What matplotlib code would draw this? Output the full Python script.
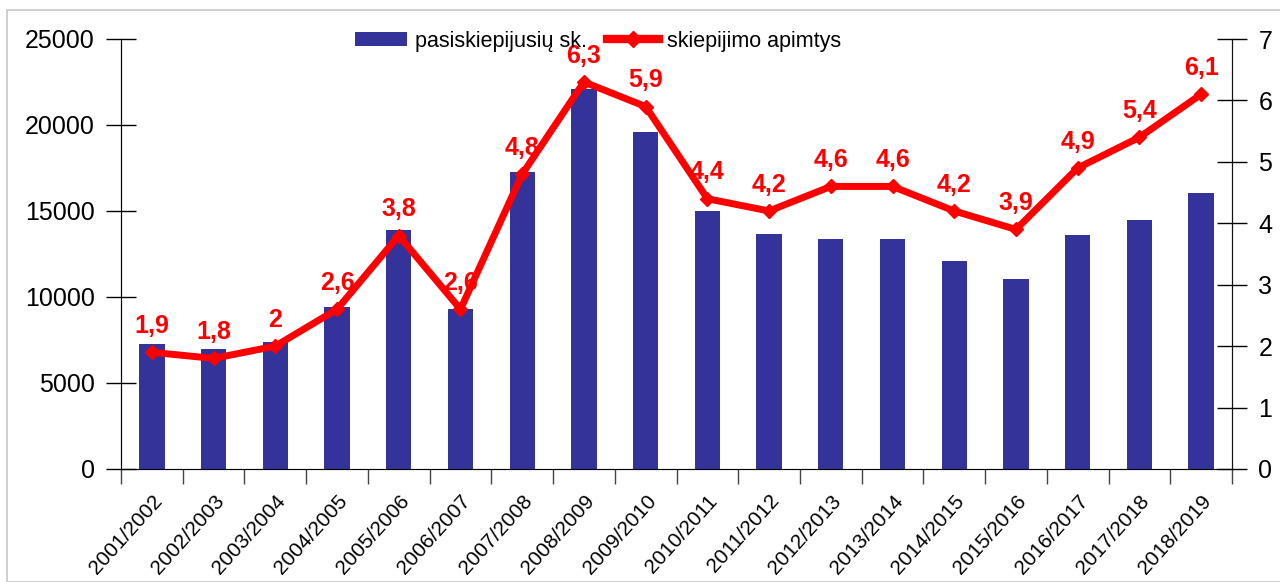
import matplotlib
matplotlib.use("Agg")
import matplotlib.pyplot as plt
from matplotlib.lines import Line2D
from matplotlib.patches import Patch, Rectangle

plt.rcParams['font.family'] = ['Liberation Sans', 'DejaVu Sans']

seasons = ["2001/2002", "2002/2003", "2003/2004", "2004/2005", "2005/2006",
           "2006/2007", "2007/2008", "2008/2009", "2009/2010", "2010/2011",
           "2011/2012", "2012/2013", "2013/2014", "2014/2015", "2015/2016",
           "2016/2017", "2017/2018", "2018/2019"]
vaccinated = [7250, 6960, 7370, 9400, 13920, 9280, 17290, 22100, 19600, 15020,
              13690, 13400, 13400, 12070, 11020, 13630, 14500, 16070]
coverage = [1.9, 1.8, 2, 2.6, 3.8, 2.6, 4.8, 6.3, 5.9, 4.4,
            4.2, 4.6, 4.6, 4.2, 3.9, 4.9, 5.4, 6.1]
coverage_labels = ["1,9", "1,8", "2", "2,6", "3,8", "2,6", "4,8", "6,3", "5,9", "4,4",
                   "4,2", "4,6", "4,6", "4,2", "3,9", "4,9", "5,4", "6,1"]

bar_color = "#333399"
line_color = "#ff0000"

W, H = 1280, 582
fig = plt.figure(figsize=(W / 100, H / 100), dpi=100)
fig.patches.append(Rectangle((7 / W, 0), 1.0, 1 - 10 / H, transform=fig.transFigure,
                             fill=False, edgecolor="#c8c8c8", linewidth=1.2))

ax = fig.add_axes([121 / W, 1 - 469 / H, (1232 - 121) / W, (469 - 39) / H])
ax2 = ax.twinx()

x = list(range(len(seasons)))
ax.bar(x, vaccinated, width=0.41, color=bar_color, zorder=2)
ax.set_xlim(-0.5, len(seasons) - 0.5)
ax.set_ylim(0, 25000)
ax.set_yticks(range(0, 25001, 5000))
ax.tick_params(axis='y', direction='inout', length=22, width=1, labelsize=18, pad=8, colors='black')

ax.set_xticks([i - 0.5 for i in range(len(seasons) + 1)])
ax.set_xticklabels([])
ax.tick_params(axis='x', which='major', direction='out', length=11, width=1, color='#444444')
ax.set_xticks(x, minor=True)
ax.set_xticklabels(seasons, minor=True, rotation=48, ha='right', va='top',
                   rotation_mode='anchor', fontsize=15)
ax.tick_params(axis='x', which='minor', length=0, pad=16)

for s in ['top']:
    ax.spines[s].set_visible(False)
    ax2.spines[s].set_visible(False)
ax.spines['bottom'].set_color('#777777')
ax.spines['left'].set_color('#333333')
ax2.spines['right'].set_color('#111111')

ax2.plot(x, coverage, color=line_color, linewidth=5, marker='D', markersize=7,
         zorder=3, solid_joinstyle='miter')
ax2.set_ylim(0, 7)
ax2.set_yticks(range(0, 8))
ax2.tick_params(axis='y', direction='inout', length=22, width=1, labelsize=18, pad=8, colors='black')
for xi, yi, lab in zip(x, coverage, coverage_labels):
    ax2.annotate(lab, (xi, yi), xytext=(0, 14), textcoords='offset points',
                 ha='center', va='baseline', color=line_color, fontsize=18,
                 fontweight='bold', zorder=4)

handles = [Patch(facecolor=bar_color, edgecolor='none'),
           Line2D([0], [0], color=line_color, linewidth=6, marker='D', markersize=8)]
fig.legend(handles, ["pasiskiepijusių sk.", "skiepijimo apimtys"],
           loc='center', bbox_to_anchor=(598 / W, 1 - 41 / H), ncol=2, frameon=False,
           fontsize=15.5, handlelength=2.4, handletextpad=0.37, columnspacing=0.93,
           handleheight=0.6)

fig.savefig("out.png", dpi=100)
